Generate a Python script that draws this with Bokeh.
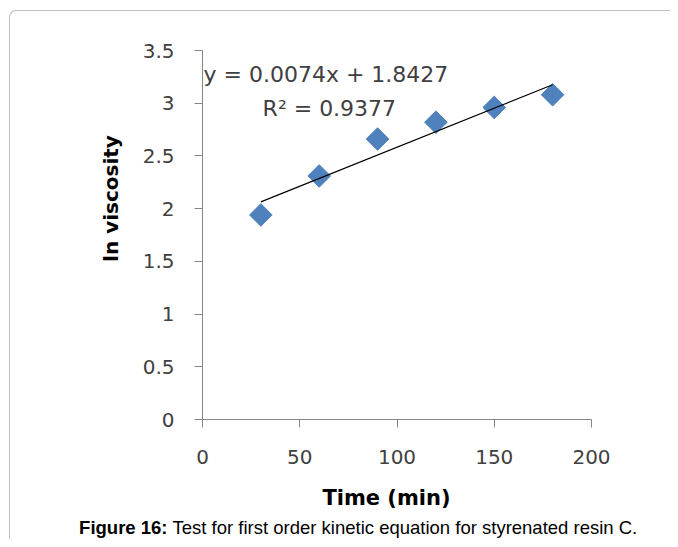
import math
from bokeh.plotting import figure
from bokeh.models import Range1d, FixedTicker, Label, InlineStyleSheet
from bokeh.embed import file_html
from bokeh.resources import INLINE

# ---- data ----
time_min = [30, 60, 90, 120, 150, 180]
ln_viscosity = [1.94, 2.31, 2.66, 2.82, 2.96, 3.08]
trend_slope = 0.0074
trend_intercept = 1.8427
trend_r2 = 0.9377
x_ticks = [0, 50, 100, 150, 200]
y_ticks = [0, 0.5, 1, 1.5, 2, 2.5, 3, 3.5]
y_tick_labels = ["0", "0.5", "1", "1.5", "2", "2.5", "3", "3.5"]
x_title = "Time (min)"
y_title = "ln viscosity"
caption_bold = "Figure 16:"
caption_rest = "Test for first order kinetic equation for styrenated resin C."

AXIS_GREY = "#868686"
TEXT_GREY = "#404040"
BLUE = "#4F81BD"

p = figure(width=670, height=539, output_backend="svg", toolbar_location=None,
           x_range=Range1d(0, 200), y_range=Range1d(0, 3.5),
           min_border_left=202, min_border_right=79,
           min_border_top=50, min_border_bottom=120)
p.outline_line_color = None
p.grid.visible = False
p.background_fill_color = "white"
p.border_fill_color = "white"

# thin rounded frame (top and left edges) around the figure panel
p.stylesheets = [InlineStyleSheet(css="""
:host::after {
  content: "";
  position: absolute;
  left: 9px; top: 10px; right: 0px; bottom: 0px;
  border-left: 1px solid #bdbdbd;
  border-top: 1px solid #bdbdbd;
  border-top-left-radius: 7px;
  pointer-events: none;
}
""")]

for ax in (p.xaxis[0], p.yaxis[0]):
    ax.axis_line_color = AXIS_GREY
    ax.major_tick_line_color = AXIS_GREY
    ax.major_tick_out = 8
    ax.major_tick_in = 0
    ax.minor_tick_line_color = None
    ax.major_label_text_font = "DejaVu Sans"
    ax.major_label_text_font_size = "20px"
    ax.major_label_text_color = TEXT_GREY

p.xaxis[0].ticker = FixedTicker(ticks=x_ticks)
p.xaxis[0].major_label_standoff = 22
p.yaxis[0].ticker = FixedTicker(ticks=y_ticks)
p.yaxis[0].major_label_overrides = {t: s for t, s in zip(y_ticks, y_tick_labels)}
p.yaxis[0].major_label_standoff = 20

# data points
p.scatter(time_min, ln_viscosity, marker="square", size=16, angle=math.pi / 4,
          fill_color=BLUE, line_color=BLUE)

# linear trend line
x_fit = [min(time_min), max(time_min)]
y_fit = [trend_slope * x + trend_intercept for x in x_fit]
p.line(x_fit, y_fit, line_color="black", line_width=1.2)

# trendline equation
p.add_layout(Label(x=0.5, y=3.27,
                   text=f"y = {trend_slope:.4f}x + {trend_intercept:.4f}",
                   text_font="DejaVu Sans", text_font_size="22px",
                   text_color=TEXT_GREY, text_baseline="middle", text_align="left"))
p.add_layout(Label(x=30.9, y=2.95, text=f"R\u00b2 = {trend_r2:.4f}",
                   text_font="DejaVu Sans", text_font_size="22px",
                   text_color=TEXT_GREY, text_baseline="middle", text_align="left"))

# axis titles (placed in side panels so they are not clipped to the frame)
p.add_layout(Label(x=386, y=497, x_units="canvas", y_units="canvas", text=x_title,
                   text_font="DejaVu Sans", text_font_size="21px",
                   text_font_style="bold", text_color="black",
                   text_align="center", text_baseline="middle"), "below")
p.add_layout(Label(x=110, y=198, x_units="canvas", y_units="canvas", text=y_title,
                   text_font="DejaVu Sans", text_font_size="20px",
                   text_font_style="bold", text_color="black",
                   text_align="center", text_baseline="middle", angle=math.pi / 2), "left")

# caption
p.add_layout(Label(x=167, y=527, x_units="canvas", y_units="canvas", text=caption_bold,
                   text_font="Liberation Sans", text_font_size="18.5px",
                   text_font_style="bold", text_color="black",
                   text_align="right", text_baseline="alphabetic"), "above")
p.add_layout(Label(x=172, y=527, x_units="canvas", y_units="canvas", text=caption_rest,
                   text_font="Liberation Sans", text_font_size="18.5px",
                   text_color="black",
                   text_align="left", text_baseline="alphabetic"), "above")

open("out.html", "w").write(file_html(p, INLINE))
